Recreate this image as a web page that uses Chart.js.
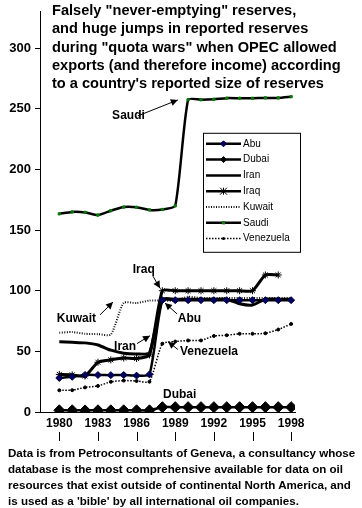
<!DOCTYPE html>
<html><head><meta charset="utf-8">
<script src="https://cdn.jsdelivr.net/npm/chart.js@4/dist/chart.umd.min.js"></script>
<style>
html,body{margin:0;padding:0;background:#fff;}
#wrap{position:relative;width:362px;height:508px;overflow:hidden;}
canvas{position:absolute;left:0;top:0;}
#title{position:absolute;left:52px;top:1px;font:bold 14.6px "Liberation Sans",Arial,sans-serif;line-height:18.3px;color:#000;white-space:nowrap;}
#note{position:absolute;left:8px;top:445px;font:bold 11.6px "Liberation Sans",Arial,sans-serif;line-height:16px;color:#000;white-space:nowrap;}
</style></head><body>
<div id="wrap"><canvas id="c" width="362" height="508"></canvas>
<div id="title">Falsely "never-emptying" reserves,<br>and huge jumps in reported reserves<br>during "quota wars" when OPEC allowed<br>exports (and therefore income) according<br>to a country's reported size of reserves</div>
<div id="note">Data is from Petroconsultants of Geneva, a consultancy whose<br>database is the most comprehensive available for data on oil<br>resources that exist outside of continental North America, and<br>is used as a 'bible' by all international oil companies.</div>
</div>
<script>
const years = [1980,1981,1982,1983,1984,1985,1986,1987,1988,1989,1990,1991,1992,1993,1994,1995,1996,1997,1998];
const abu = [28,29,30.6,30.5,30.4,30.5,30,31,92.2,92.2,92.2,92.2,92.2,92.2,92.2,92.2,92.2,92.2,92.2];
const dubai = [1.4,1.4,1.3,1.4,1.4,1.4,1.4,1.4,4,4,4,4,4,4,4,4,4,4,4];
const iran = [58,57.5,57,55.3,51,48.5,47.9,48.8,92.9,92.9,93,93,93,93,89.3,88.2,93,93,93];
const iraq = [31,30.6,29.7,41,43,44.5,44.1,47.1,100,100,100,100,100,100,100,100,113,113,null];
const kuwait = [65.4,65.9,64.5,64.2,63.9,90,89.8,91.9,91.9,91.9,95,94,94,94,94,94,94,94,94];
const saudi = [163.4,165,164.6,162.4,166,169,168.8,166.6,167,170,257.5,257.5,257.9,258.8,258.7,258.7,259,259,260];
const venezuela = [17.9,18,20.3,21.5,24.9,25.9,25.6,25,56.3,58.1,59,59,62.7,63.3,64.5,64.5,64.9,68,72.6];
const seriesNames = ["Abu","Dubai","Iran","Iraq","Kuwait","Saudi","Venezuela"];
const xTickLabels = [1980,1983,1986,1989,1992,1995,1998];
const yTickValues = [0,50,100,150,200,250,300];
// callouts: label anchor (year, value) and arrow from/to in data units
const callouts = [
  {text:"Saudi", x:1984.1, y:244, a:[1986.1,244.2,1989.2,257.3]},
  {text:"Iraq", x:1985.7, y:117.6, a:[1987.27,112,1987.82,102.1]},
  {text:"Kuwait", x:1979.8, y:76.8, a:[1983.16,80.1,1984.17,90.7]},
  {text:"Abu", x:1989.2, y:76.8, a:[1989.14,80.9,1988.2,89.9]},
  {text:"Iran", x:1984.25, y:53.9, a:[1986.03,56.4,1987.04,62.9]},
  {text:"Venezuela", x:1989.37, y:49.8, a:[1989.21,51.5,1988.44,58]},
  {text:"Dubai", x:1988.05, y:13.9, a:null}
];

const pts = arr => years.map((yr,i)=>({x:yr,y:arr[i]}));
const base = {borderColor:'#000', tension:0.2, fill:false, spanGaps:false, pointBorderWidth:1};
const datasets = [
  Object.assign({}, base, {label:seriesNames[0], data:pts(abu), borderWidth:2.5, pointStyle:'rectRot', pointRadius:3.5, pointBackgroundColor:'#000060', pointBorderColor:'#000040'}),
  Object.assign({}, base, {label:seriesNames[1], data:pts(dubai), borderWidth:2.5, pointStyle:'rectRot', pointRadius:5.5, pointBackgroundColor:'#000', pointBorderColor:'#000'}),
  Object.assign({}, base, {label:seriesNames[2], data:pts(iran), borderWidth:3, pointRadius:0}),
  Object.assign({}, base, {label:seriesNames[3], data:pts(iraq), borderWidth:3, pointStyle:'star', pointRadius:3.5, pointBorderColor:'#000', pointBackgroundColor:'#000'}),
  Object.assign({}, base, {label:seriesNames[4], data:pts(kuwait), borderWidth:2, borderDash:[1,1.5], pointRadius:0, borderColor:'#111'}),
  Object.assign({}, base, {label:seriesNames[5], data:pts(saudi), borderWidth:2.5, pointStyle:'rect', pointRadius:1.6, pointBackgroundColor:'#0a7a0a', pointBorderColor:'#0a7a0a'}),
  Object.assign({}, base, {label:seriesNames[6], data:pts(venezuela), borderWidth:1.5, borderDash:[1.5,1.5], pointStyle:'circle', pointRadius:1.5, pointBackgroundColor:'#000', pointBorderColor:'#000'})
];

function drawMarker(ctx, ds, x, y){
  const r = ds.pointRadius||0; if(!r) return;
  ctx.save(); ctx.setLineDash([]); ctx.fillStyle=ds.pointBackgroundColor||'#000'; ctx.strokeStyle=ds.pointBorderColor||'#000'; ctx.lineWidth=1;
  ctx.beginPath();
  if(ds.pointStyle==='rectRot'){ctx.moveTo(x,y-r);ctx.lineTo(x+r,y);ctx.lineTo(x,y+r);ctx.lineTo(x-r,y);ctx.closePath();ctx.fill();ctx.stroke();}
  else if(ds.pointStyle==='rect'){ctx.rect(x-r,y-r,2*r,2*r);ctx.fill();}
  else if(ds.pointStyle==='star'){ctx.moveTo(x-r,y-r);ctx.lineTo(x+r,y+r);ctx.moveTo(x-r,y+r);ctx.lineTo(x+r,y-r);ctx.moveTo(x,y-r);ctx.lineTo(x,y+r);ctx.moveTo(x-r,y);ctx.lineTo(x+r,y);ctx.stroke();}
  else {ctx.arc(x,y,r,0,Math.PI*2);ctx.fill();}
  ctx.restore();
}

const overlay = {
  id:'overlay',
  afterDatasetsDraw(chart){
    const ctx = chart.ctx, xs = chart.scales.x, ys = chart.scales.y, ca = chart.chartArea;
    ctx.save();
    // callouts
    ctx.font = 'bold 12px "Liberation Sans", Arial, sans-serif';
    ctx.fillStyle = '#000'; ctx.textBaseline='middle'; ctx.textAlign='left';
    callouts.forEach(c=>{
      ctx.fillText(c.text, xs.getPixelForValue(c.x), ys.getPixelForValue(c.y));
      if(c.a){
        const x0=xs.getPixelForValue(c.a[0]), y0=ys.getPixelForValue(c.a[1]);
        const x1=xs.getPixelForValue(c.a[2]), y1=ys.getPixelForValue(c.a[3]);
        ctx.strokeStyle='#000'; ctx.lineWidth=1; ctx.setLineDash([]);
        ctx.beginPath(); ctx.moveTo(x0,y0); ctx.lineTo(x1,y1); ctx.stroke();
        const ang=Math.atan2(y1-y0,x1-x0), L=7, W=3.5;
        ctx.beginPath(); ctx.moveTo(x1,y1);
        ctx.lineTo(x1-L*Math.cos(ang)+W*Math.sin(ang), y1-L*Math.sin(ang)-W*Math.cos(ang));
        ctx.lineTo(x1-L*Math.cos(ang)-W*Math.sin(ang), y1-L*Math.sin(ang)+W*Math.cos(ang));
        ctx.closePath(); ctx.fill();
      }
    });
    // tick marks beneath x labels
    ctx.strokeStyle='#000'; ctx.lineWidth=1;
    xTickLabels.forEach(v=>{
      const px=Math.round(xs.getPixelForValue(v))+0.5;
      ctx.beginPath(); ctx.moveTo(px, ca.bottom+20); ctx.lineTo(px, ca.bottom+29); ctx.stroke();
    });
    // legend box
    const lx = ca.left+163.5, ly = ca.top+121.5, lw=97, lh=119;
    ctx.fillStyle='#fff'; ctx.fillRect(lx,ly,lw,lh);
    ctx.strokeStyle='#000'; ctx.lineWidth=1; ctx.strokeRect(lx,ly,lw,lh);
    ctx.font='10px "Liberation Sans", Arial, sans-serif'; ctx.textBaseline='middle';
    chart.data.datasets.forEach((ds,i)=>{
      const yy = ly + 10.5 + i*15.8;
      ctx.save();
      ctx.strokeStyle=ds.borderColor; ctx.lineWidth=Math.min(ds.borderWidth,2.5); ctx.setLineDash(ds.borderDash||[]);
      ctx.beginPath(); ctx.moveTo(lx+2.5, yy); ctx.lineTo(lx+37.5, yy); ctx.stroke();
      ctx.restore();
      drawMarker(ctx, Object.assign({}, ds, {pointRadius: ds.pointStyle==='rectRot'?3:(ds.pointRadius||0)}), lx+20, yy);
      ctx.fillStyle='#000'; ctx.fillText(ds.label, lx+39.5, yy);
    });
    ctx.restore();
  }
};

new Chart(document.getElementById('c'), {
  type:'line',
  data:{datasets},
  options:{
    responsive:false, animation:false, devicePixelRatio:1,
    layout:{padding:{top:8,right:67,left:0,bottom:0}},
    plugins:{legend:{display:false}, tooltip:{enabled:false}},
    elements:{line:{borderCapStyle:'butt', borderJoinStyle:'round'}},
    scales:{
      x:{type:'linear', min:1978.5, max:1998.3,
        afterBuildTicks:s=>{s.ticks = xTickLabels.map(v=>({value:v}));},
        afterFit:s=>{s.height=96;},
        grid:{drawOnChartArea:false, drawTicks:false},
        border:{color:'#000', width:1},
        ticks:{color:'#000', padding:4, autoSkip:false, maxRotation:0, font:{family:'"Liberation Sans", Arial, sans-serif', size:12, weight:'bold'}, callback:v=>String(v)}
      },
      y:{type:'linear', min:0, max:330,
        afterBuildTicks:s=>{s.ticks = yTickValues.map(v=>({value:v}));},
        afterFit:s=>{s.width=40;},
        grid:{drawOnChartArea:false, drawTicks:true, tickLength:5, color:'#000'},
        border:{color:'#000', width:1},
        ticks:{color:'#000', padding:4, font:{family:'"Liberation Sans", Arial, sans-serif', size:13, weight:'bold'}, callback:v=>String(v)}
      }
    }
  },
  plugins:[overlay]
});
</script>
</body></html>
